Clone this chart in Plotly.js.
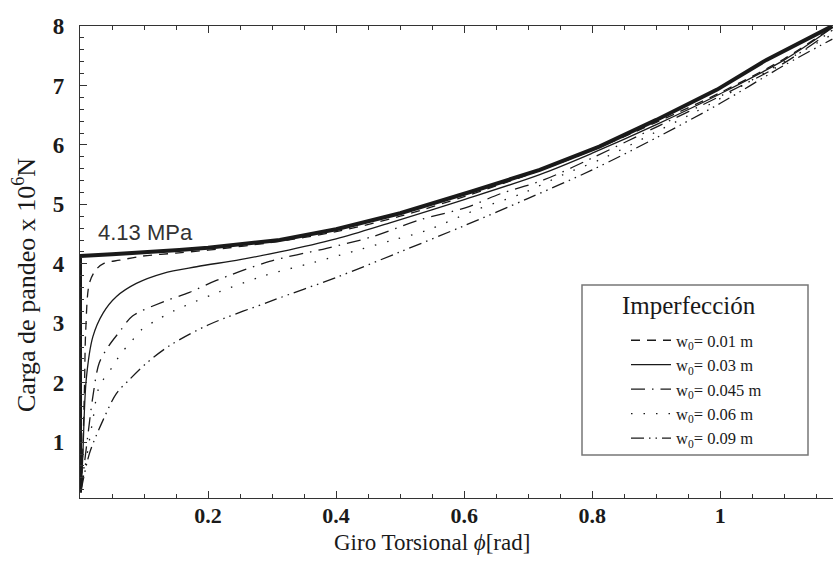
<!DOCTYPE html>
<html>
<head>
<meta charset="utf-8">
<script src="https://cdn.plot.ly/plotly-3.0.1.min.js"></script>
<style>html,body{margin:0;padding:0;background:#fff;overflow:hidden;}#chart{width:833px;height:574px;}</style>
</head>
<body>
<div id="chart"></div>
<script>
// Perfect column (no imperfection) - thick curve
const xPerfect = [0, 0, 0.05, 0.1, 0.155, 0.2, 0.312, 0.4, 0.5, 0.613, 0.718, 0.811, 0.9, 0.995, 1.072, 1.175];
const yPerfect = [0.15, 4.13, 4.16, 4.19, 4.23, 4.27, 4.40, 4.58, 4.85, 5.22, 5.58, 5.97, 6.42, 6.93, 7.43, 8.0];

// w0 = 0.01 m
const x001 = [0.002, 0.0045, 0.007, 0.009, 0.0148, 0.025, 0.038, 0.062, 0.098, 0.15, 0.2, 0.3, 0.4, 0.5, 0.6, 0.7, 0.8, 0.9, 1.0, 1.1, 1.175];
const y001 = [0.2, 0.9, 1.93, 2.89, 3.68, 3.90, 4.01, 4.06, 4.13, 4.18, 4.23, 4.36, 4.54, 4.80, 5.13, 5.50, 5.91, 6.38, 6.88, 7.45, 7.98];

// w0 = 0.03 m
const x003 = [0.002, 0.0045, 0.0097, 0.020, 0.036, 0.057, 0.088, 0.130, 0.182, 0.25, 0.312, 0.4, 0.484, 0.6, 0.718, 0.8, 0.9, 1.0, 1.1, 1.175];
const y003 = [0.2, 0.81, 2.05, 2.77, 3.17, 3.45, 3.67, 3.84, 3.95, 4.07, 4.20, 4.42, 4.69, 5.08, 5.50, 5.86, 6.34, 6.86, 7.43, 7.97];

// w0 = 0.045 m
const x0045 = [0.002, 0.012, 0.020, 0.030, 0.045, 0.062, 0.082, 0.130, 0.171, 0.213, 0.296, 0.385, 0.458, 0.531, 0.604, 0.657, 0.724, 0.8, 0.9, 1.0, 1.1, 1.175];
const y0045 = [0.2, 1.09, 1.76, 2.33, 2.62, 2.86, 3.12, 3.36, 3.52, 3.72, 4.04, 4.26, 4.46, 4.74, 4.95, 5.18, 5.41, 5.78, 6.30, 6.82, 7.38, 7.93];

// w0 = 0.06 m
const x006 = [0.002, 0.0097, 0.020, 0.030, 0.051, 0.064, 0.080, 0.096, 0.121, 0.145, 0.168, 0.218, 0.285, 0.364, 0.437, 0.489, 0.541, 0.619, 0.692, 0.755, 0.818, 0.9, 0.99, 1.07, 1.175];
const y006 = [0.2, 0.70, 1.37, 1.93, 2.27, 2.49, 2.69, 2.89, 3.06, 3.20, 3.31, 3.53, 3.79, 4.02, 4.24, 4.40, 4.56, 4.91, 5.19, 5.50, 5.78, 6.22, 6.72, 7.22, 7.86];

// w0 = 0.09 m
const x009 = [0.002, 0.0148, 0.036, 0.057, 0.077, 0.104, 0.141, 0.2, 0.3, 0.4, 0.5, 0.6, 0.7, 0.8, 0.9, 1.0, 1.1, 1.175];
const y009 = [0.2, 0.81, 1.37, 1.82, 2.05, 2.33, 2.63, 2.97, 3.38, 3.77, 4.20, 4.64, 5.10, 5.58, 6.12, 6.70, 7.34, 7.78];

const legendTitle = 'Imperfección';
const legendNames = ['w<sub>0</sub>= 0.01 m', 'w<sub>0</sub>= 0.03 m', 'w<sub>0</sub>= 0.045 m', 'w<sub>0</sub>= 0.06 m', 'w<sub>0</sub>= 0.09 m'];
const xTickVals = [0.2, 0.4, 0.6, 0.8, 1];
const xTickText = ['0.2', '0.4', '0.6', '0.8', '1'];
const yTickVals = [1, 2, 3, 4, 5, 6, 7, 8];
const yTickText = ['1', '2', '3', '4', '5', '6', '7', '8'];

const ink = '#1a1a1a';
const serif = 'Liberation Serif, Times New Roman, serif';

function thin(x, y, name, dash) {
  return {x: x, y: y, mode: 'lines', name: name,
          line: {color: ink, width: 1.3, dash: dash, shape: 'spline', smoothing: 0.9}};
}

const traces = [
  {x: xPerfect, y: yPerfect, mode: 'lines', line: {color: ink, width: 4}, showlegend: false, hoverinfo: 'skip'},
  thin(x001, y001, legendNames[0], '9px,7px'),
  thin(x003, y003, legendNames[1], 'solid'),
  thin(x0045, y0045, legendNames[2], '14px,7px,1.5px,7px'),
  thin(x006, y006, legendNames[3], '1.5px,11px'),
  thin(x009, y009, legendNames[4], '13px,5px,1.5px,5px,1.5px,5px')
];

const M = {l: 80, r: 0, t: 26, b: 76};
const plotW = 833 - M.l - M.r;
const plotH = 574 - M.t - M.b;
const px2paperX = px => (px - M.l) / plotW;
const px2paperY = py => (574 - M.b - py) / plotH;

const layout = {
  width: 833, height: 574,
  margin: M,
  paper_bgcolor: '#fff', plot_bgcolor: '#fff',
  font: {family: serif, color: ink},
  xaxis: {
    range: [0, 1.176], showgrid: false, zeroline: false,
    showline: true, linecolor: '#333', linewidth: 1.2, mirror: 'ticks',
    ticks: 'inside', ticklen: 7, tickcolor: '#333', tickwidth: 1,
    tickvals: xTickVals, ticktext: xTickText.map(t => '<b>' + t + '</b>'),
    tickfont: {family: serif, size: 22, color: ink},
    ticklabelstandoff: -3,
    minor: {dtick: 0.05, tick0: 0, ticks: 'inside', ticklen: 4, tickcolor: '#333', showgrid: false}
  },
  yaxis: {
    range: [0.06, 8.0], showgrid: false, zeroline: false,
    showline: true, linecolor: '#333', linewidth: 1.2, mirror: false,
    ticks: 'inside', ticklen: 7, tickcolor: '#333', tickwidth: 1,
    tickvals: yTickVals, ticktext: yTickText.map(t => '<b>' + t + '</b>'),
    tickfont: {family: serif, size: 23, color: ink},
    ticklabelstandoff: 10,
    minor: {dtick: 0.2, tick0: 0, ticks: 'inside', ticklen: 4, tickcolor: '#333', showgrid: false}
  },
  legend: {
    x: px2paperX(626), y: px2paperY(323), xanchor: 'left', yanchor: 'top',
    bgcolor: 'rgba(0,0,0,0)', borderwidth: 0,
    font: {family: serif, size: 16.5, color: ink},
    tracegroupgap: 0, itemwidth: 40
  },
  shapes: [
    {type: 'rect', xref: 'paper', yref: 'paper',
     x0: px2paperX(582), x1: px2paperX(808), y0: px2paperY(455), y1: px2paperY(285),
     line: {color: '#777', width: 1.5}, fillcolor: '#fff', layer: 'below'}
  ],
  annotations: [
    {x: 0.102, y: 4.52, xref: 'x', yref: 'y', text: '4.13 MPa', showarrow: false,
     font: {family: 'Liberation Sans, Arial, sans-serif', size: 22, color: '#333'}},
    {x: px2paperX(432), y: px2paperY(542), xref: 'paper', yref: 'paper', xanchor: 'center', yanchor: 'middle',
     text: 'Giro Torsional <i>ϕ</i>[rad]', showarrow: false,
     font: {family: serif, size: 23, color: ink}},
    {x: px2paperX(24), y: px2paperY(285), xref: 'paper', yref: 'paper', xanchor: 'center', yanchor: 'middle',
     text: 'Carga de pandeo x 10<sup>6</sup>N', showarrow: false,
     textangle: -90, font: {family: serif, size: 26, color: ink}},
    {x: px2paperX(689), y: px2paperY(305), xref: 'paper', yref: 'paper', xanchor: 'center', yanchor: 'middle',
     text: legendTitle, showarrow: false,
     font: {family: serif, size: 25, color: ink}}
  ]
};

Plotly.newPlot('chart', traces, layout, {displayModeBar: false, staticPlot: true});
</script>
</body>
</html>
